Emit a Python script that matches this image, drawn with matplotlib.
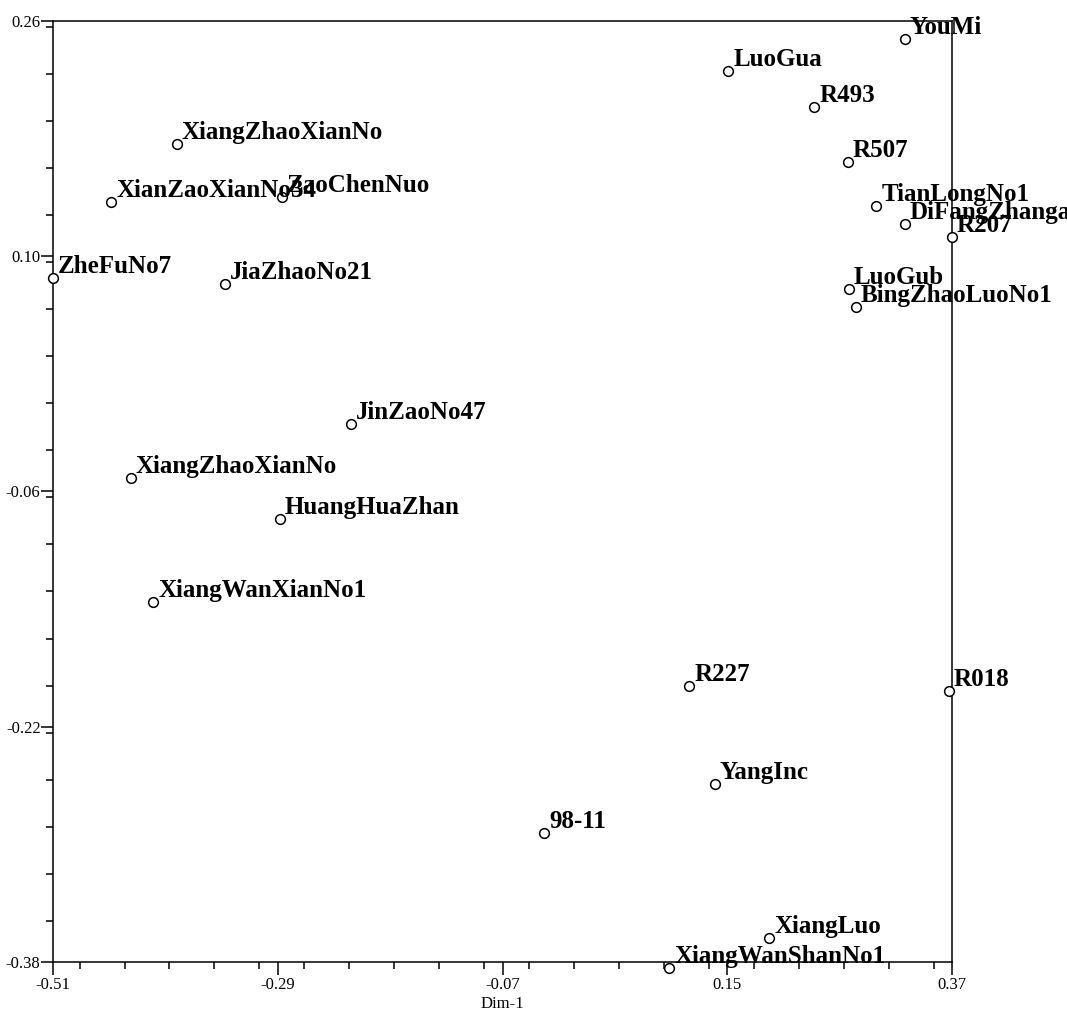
import matplotlib
matplotlib.use("Agg")
import matplotlib.pyplot as plt
from matplotlib.ticker import MultipleLocator

plt.rcParams['font.family'] = ['Liberation Serif', 'DejaVu Serif']
plt.rcParams['axes.unicode_minus'] = False

# sample names and their coordinates on the first two dimensions
names = ['YouMi', 'LuoGua', 'R493', 'R507', 'TianLongNo1', 'DiFangZhanga', 'R207',
         'LuoGub', 'BingZhaoLuoNo1', 'XiangZhaoXianNo', 'XianZaoXianNo34', 'ZaoChenNuo',
         'ZheFuNo7', 'JiaZhaoNo21', 'JinZaoNo47', 'XiangZhaoXianNo', 'HuangHuaZhan',
         'XiangWanXianNo1', 'R227', 'R018', 'YangInc', '98-11', 'XiangLuo', 'XiangWanShanNo1']
dim1 = [0.324, 0.151, 0.235, 0.268, 0.296, 0.324, 0.370,
        0.269, 0.276, -0.389, -0.453, -0.286,
        -0.510, -0.342, -0.218, -0.434, -0.288,
        -0.412, 0.113, 0.367, 0.138, -0.029, 0.191, 0.093]
dim2 = [0.248, 0.226, 0.2015, 0.164, 0.134, 0.122, 0.113,
        0.0777, 0.0654, 0.176, 0.137, 0.140,
        0.085, 0.081, -0.014, -0.051, -0.079,
        -0.135, -0.192, -0.196, -0.259, -0.292, -0.364, -0.384]

xticks = [-0.51, -0.29, -0.07, 0.15, 0.37]
yticks = [-0.38, -0.22, -0.06, 0.10, 0.26]

fig = plt.figure(figsize=(10.67, 10.14), dpi=100)
ax = fig.add_axes([0.0497, 0.0513, 0.8425, 0.928])

ax.plot(dim1, dim2, 'o', ms=7, mfc='white', mec='black', mew=1.1, clip_on=False, zorder=3)
for n, x, y in zip(names, dim1, dim2):
    ax.annotate(n, (x, y), xytext=(5, 5), textcoords='offset pixels',
                ha='left', va='baseline', fontsize=18, fontweight='bold',
                annotation_clip=False, zorder=4)

ax.set_xlim(-0.51, 0.37)
ax.set_ylim(-0.38, 0.26)
ax.set_xticks(xticks)
ax.set_xticklabels(['%.2f' % v for v in xticks])
ax.set_yticks(yticks)
ax.set_yticklabels(['%.2f' % v for v in yticks])
ax.xaxis.set_minor_locator(MultipleLocator(0.044))
ax.yaxis.set_minor_locator(MultipleLocator(0.032))
ax.tick_params(which='major', length=9, width=1.1, labelsize=12, direction='out')
ax.tick_params(which='minor', length=5, width=1.1, direction='out')
ax.tick_params(axis='y', which='major', pad=0)
ax.tick_params(axis='x', which='major', pad=2)
for s in ax.spines.values():
    s.set_linewidth(1.1)

ax.set_xlabel('Dim-1', fontsize=12, labelpad=2)

fig.savefig('out.png', dpi=100)
